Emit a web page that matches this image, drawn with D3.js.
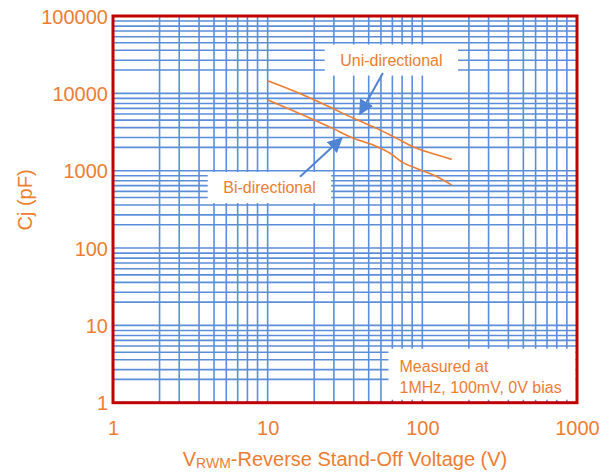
<!DOCTYPE html>
<html>
<head>
<meta charset="utf-8">
<script src="https://cdn.jsdelivr.net/npm/d3@7"></script>
<style>
  html, body { margin: 0; padding: 0; background: #ffffff; }
  svg { display: block; font-family: "Liberation Sans", Arial, sans-serif; }
</style>
</head>
<body>
<svg id="chart" width="613" height="475"></svg>
<script>
// Axis ranges and decade labels
const xDecades = [1, 10, 100, 1000];
const yDecades = [1, 10, 100, 1000, 10000, 100000];
const xTickLabels = ["1", "10", "100", "1000"];
const yTickLabels = ["1", "10", "100", "1000", "10000", "100000"];

// Minor grid steps inside each decade (as printed on the chart paper)
const minorSteps = [2, 2.68, 3.6, 4.5, 5.4, 6.4, 7.4, 8.6];

// Junction capacitance vs. reverse stand-off voltage
const uniV  = [10, 16, 25, 36, 51, 62, 75, 87, 112, 155];
const uniCj = [14500, 10000, 6700, 4750, 3500, 2900, 2370, 2040, 1700, 1400];
const biV   = [10, 16, 26.5, 34, 51, 62, 75, 92, 124, 155];
const biCj  = [8200, 5500, 3500, 2750, 2040, 1680, 1270, 1070, 840, 650];

// Callout labels (centre, in data units) and their arrows (start -> tip)
const calloutText = ["Uni-directional", "Bi-directional"];
const calloutAt   = [[63.1, 26950], [10.27, 605]];
const arrowFrom   = [[55.6, 18290], [16.2, 835]];
const arrowTo     = [[39.5, 5410], [30.1, 2620]];

const noteLines = ["Measured at", "1MHz, 100mV, 0V bias"];

const orange = "#ED7D31";
const gridBlue = "#5B8EDA";
const arrowBlue = "#4F84D2";
const frameRed = "#C00000";

const margin = { left: 113, right: 36, top: 16, bottom: 72.3 };
const W = 613, H = 475;
const svg = d3.select("#chart");

const x = d3.scaleLog().domain([1, 1000]).range([margin.left, W - margin.right]);
const y = d3.scaleLog().domain([1, 100000]).range([H - margin.bottom, margin.top]);

// grid values: decades plus minor steps
function gridValues(decades) {
  const out = [];
  decades.forEach((d, i) => {
    out.push(d);
    if (i < decades.length - 1) minorSteps.forEach(s => out.push(d * s));
  });
  return out;
}

const grid = svg.append("g").attr("class", "grid");
grid.selectAll("line.v").data(gridValues(xDecades)).join("line")
  .attr("class", "v")
  .attr("x1", d => x(d)).attr("x2", d => x(d))
  .attr("y1", y.range()[0]).attr("y2", y.range()[1])
  .attr("stroke", gridBlue).attr("stroke-width", 1.6);
grid.selectAll("line.h").data(gridValues(yDecades)).join("line")
  .attr("class", "h")
  .attr("y1", d => y(d)).attr("y2", d => y(d))
  .attr("x1", x.range()[0]).attr("x2", x.range()[1])
  .attr("stroke", gridBlue).attr("stroke-width", 1.6);

// curves
const line = d3.line().x(d => x(d[0])).y(d => y(d[1])).curve(d3.curveMonotoneX);
[[uniV, uniCj], [biV, biCj]].forEach(([vs, cs]) => {
  svg.append("path")
    .datum(vs.map((v, i) => [v, cs[i]]))
    .attr("d", line)
    .attr("fill", "none")
    .attr("stroke", orange)
    .attr("stroke-width", 1.6);
});

// measurement note box (lower right corner)
const noteG = svg.append("g");
const noteRight = x.range()[1] - 1.5;
const noteBottom = y.range()[0] - 3;
noteG.append("rect")
  .attr("x", noteRight - 187).attr("y", noteBottom - 51)
  .attr("width", 187).attr("height", 51)
  .attr("fill", "#ffffff");
noteG.selectAll("text").data(noteLines).join("text")
  .attr("x", noteRight - 176)
  .attr("y", (d, i) => noteBottom - 28 + i * 21.6)
  .attr("font-size", 16).attr("fill", orange)
  .text(d => d);

// callouts
const calloutG = svg.append("g");
calloutText.forEach((t, i) => {
  const cx = x(calloutAt[i][0]), cy = y(calloutAt[i][1]);
  const g = calloutG.append("g");
  const txt = g.append("text")
    .attr("x", cx).attr("y", cy + 5.8)
    .attr("text-anchor", "middle")
    .attr("font-size", 16).attr("fill", orange)
    .text(t);
  const bb = txt.node().getBBox();
  g.insert("rect", "text")
    .attr("x", bb.x - 15.5).attr("y", cy - 15.5)
    .attr("width", bb.width + 31).attr("height", 31)
    .attr("fill", "#ffffff");
});

// arrows
const defs = svg.append("defs");
defs.append("marker")
  .attr("id", "head")
  .attr("viewBox", "0 0 10 10")
  .attr("refX", 9).attr("refY", 5)
  .attr("markerWidth", 7.5).attr("markerHeight", 7.5)
  .attr("markerUnits", "strokeWidth")
  .attr("orient", "auto")
  .append("path").attr("d", "M0,0 L10,5 L0,10 Z").attr("fill", arrowBlue);
arrowFrom.forEach((f, i) => {
  svg.append("line")
    .attr("x1", x(f[0])).attr("y1", y(f[1]))
    .attr("x2", x(arrowTo[i][0])).attr("y2", y(arrowTo[i][1]))
    .attr("stroke", arrowBlue).attr("stroke-width", 2)
    .attr("marker-end", "url(#head)");
});

// frame
svg.append("rect")
  .attr("x", x.range()[0]).attr("y", y.range()[1])
  .attr("width", x.range()[1] - x.range()[0])
  .attr("height", y.range()[0] - y.range()[1])
  .attr("fill", "none").attr("stroke", frameRed).attr("stroke-width", 3);

// axes (labels only)
const xAxis = d3.axisBottom(x).tickValues(xDecades)
  .tickFormat((d, i) => xTickLabels[i]).tickSize(0).tickPadding(0);
const xg = svg.append("g").attr("transform", `translate(0,${y.range()[0]})`).call(xAxis);
xg.select(".domain").remove();
xg.selectAll("text").attr("font-size", 20).attr("fill", orange)
  .attr("font-family", "'Liberation Sans', Arial, sans-serif")
  .attr("dy", null).attr("y", 32.5);

const yAxis = d3.axisLeft(y).tickValues(yDecades)
  .tickFormat((d, i) => yTickLabels[i]).tickSize(0).tickPadding(5);
const yg = svg.append("g").attr("transform", `translate(${x.range()[0]},0)`).call(yAxis);
yg.select(".domain").remove();
yg.selectAll("text").attr("font-size", 20).attr("fill", orange)
  .attr("font-family", "'Liberation Sans', Arial, sans-serif")
  .attr("dy", "0.36em");

// axis titles
const xt = svg.append("text")
  .attr("x", (x.range()[0] + x.range()[1]) / 2).attr("y", 466)
  .attr("text-anchor", "middle")
  .attr("font-size", 20).attr("fill", orange);
xt.append("tspan").text("V");
xt.append("tspan").attr("font-size", 14).attr("dy", 2).text("RWM");
xt.append("tspan").attr("dy", -2).text("-Reverse Stand-Off Voltage (V)");

svg.append("text")
  .attr("transform", `translate(32,${200}) rotate(-90)`)
  .attr("text-anchor", "middle")
  .attr("font-size", 20).attr("fill", orange)
  .text("Cj (pF)");
</script>
</body>
</html>
